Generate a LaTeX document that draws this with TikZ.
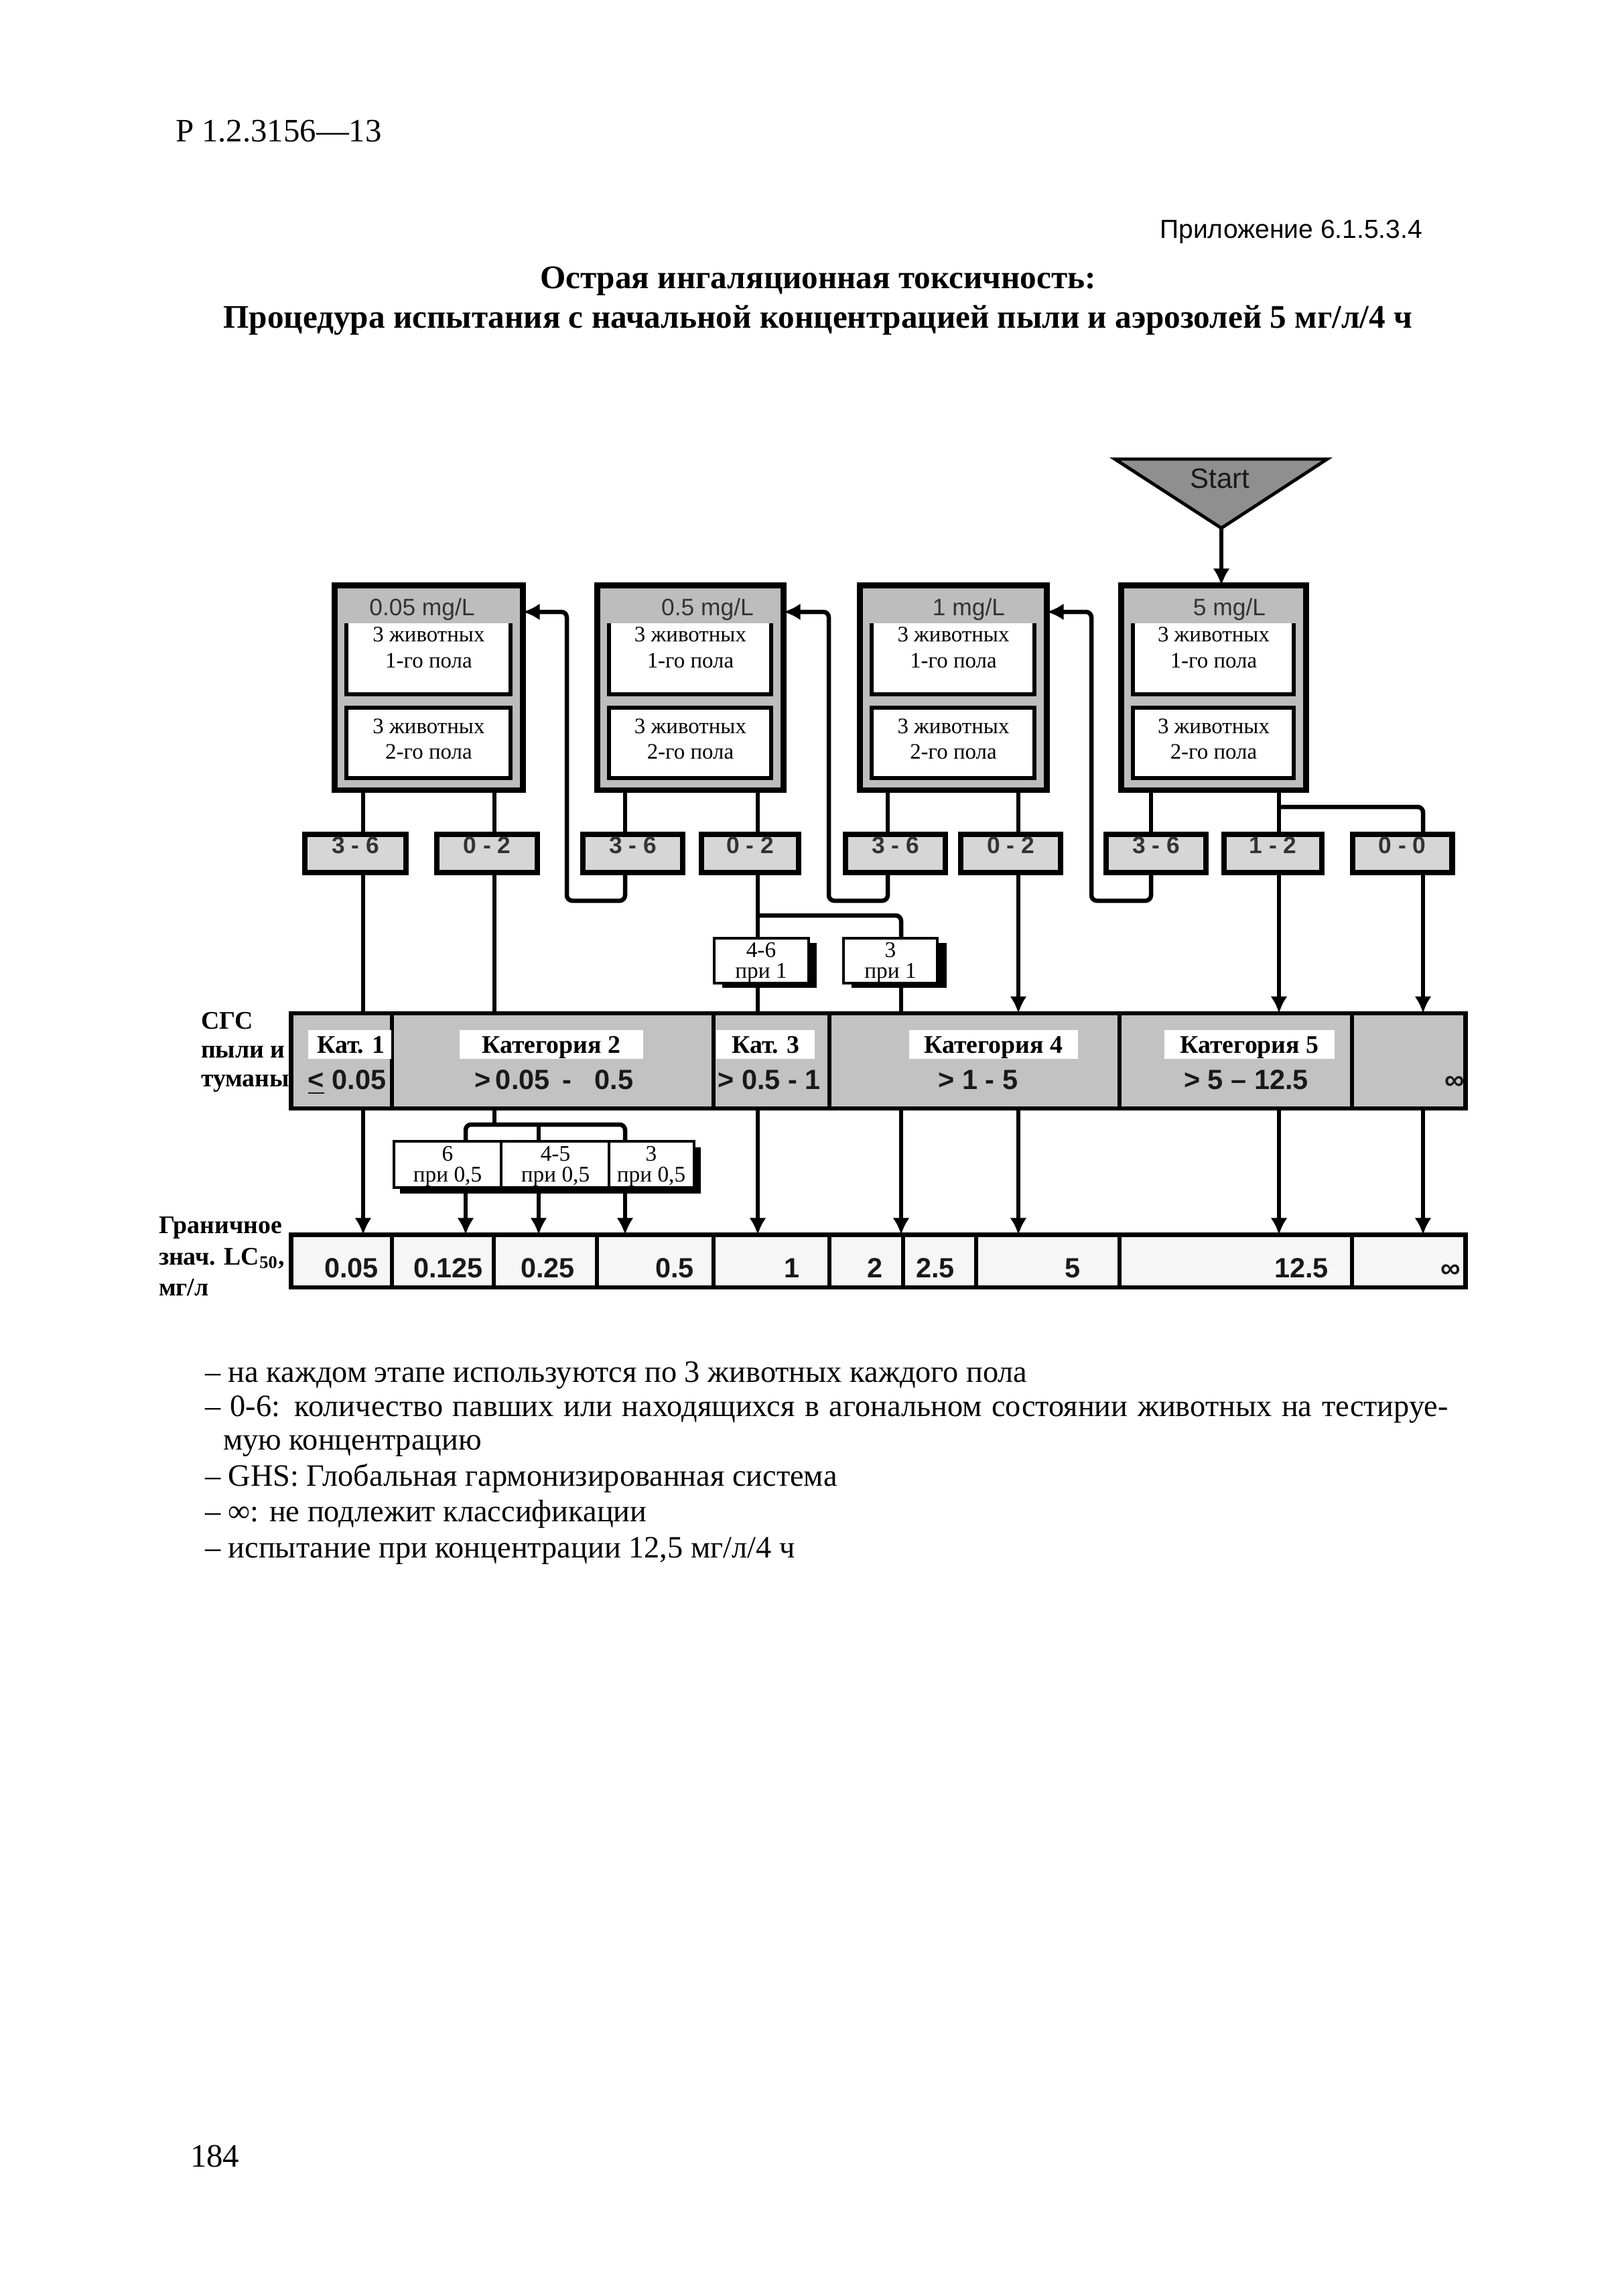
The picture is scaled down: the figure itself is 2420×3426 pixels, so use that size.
\documentclass[tikz,border=0pt]{standalone}
\usepackage{fontspec}
\setmainfont{Liberation Serif}
\newfontfamily\arialf{Liberation Sans}
\usetikzlibrary{fit,arrows.meta}
\definecolor{cgray}{gray}{0.74}
\definecolor{rgray}{gray}{0.84}
\definecolor{kgray}{gray}{0.76}
\definecolor{lgray}{gray}{0.965}
\definecolor{sgray}{gray}{0.56}
\definecolor{tgray}{gray}{0.2}
\definecolor{dgray}{gray}{0.1}
\newcommand\fsz[1]{\fontsize{#1pt}{#1pt}\selectfont}
\newcommand\concbox[5]{%
  \node[conc, fit={(#2+4.5,873.5) (#3-4.5,1179)}] (#1) {};
  \node[ctitle] (#1t) at (#4,918) {#5};
  \fill[white] (#2+22,930) rectangle (#3-23,1036);
  \draw[inb] (#2+22,930) -- (#2+22,1036) -- (#3-23,1036) -- (#3-23,930);
  \node[itext] (#1a) at ({(#2+#3)/2},957) {3 животных};
  \node[itext] (#1b) at ({(#2+#3)/2},996) {1-го пола};
  \node[draw, line width=1.4pt, fill=white, fit={(#2+22,1056) (#3-23,1161)}] (#1i) {};
  \node[itext] (#1c) at ({(#2+#3)/2},1094) {3 животных};
  \node[itext] (#1d) at ({(#2+#3)/2},1132) {2-го пола};
}
\begin{document}
\begin{tikzpicture}[x=0.24597pt, y=-0.24597pt,
  every node/.style={inner sep=0pt, outer sep=0pt},
  conn/.style={line width=1.6pt},
  arr/.style={line width=1.6pt, -{Latex[length=6.2pt,width=6.2pt]}},
  conc/.style={draw, line width=2.2pt, fill=cgray},
  ctitle/.style={anchor=base, font=\arialf\fsz{8.7}, text=tgray},
  inb/.style={line width=1.4pt},
  itext/.style={anchor=base, font=\fsz{8.1}},
  res/.style={draw, line width=2.2pt, fill=rgray, font=\arialf\bfseries\fsz{8.7}, text=tgray},
  kat/.style={draw, line width=1.7pt, fill=kgray},
  katlab/.style={anchor=base, font=\bfseries\fsz{9.3}},
  rng/.style={anchor=base, font=\arialf\bfseries\fsz{10.2}, text=dgray},
  lcc/.style={draw, line width=1.7pt, fill=lgray},
  lcv/.style={anchor=base east, font=\arialf\bfseries\fsz{10.2}, text=dgray},
  pbox/.style={draw, line width=0.9pt, fill=white},
  ptext/.style={anchor=base, font=\fsz{8.2}},
  side/.style={anchor=base west, font=\bfseries\fsz{9.3}},
  foot/.style={anchor=base west, font=\fsz{11.4}},
  rc/.style={rounded corners=2pt}
]
\fill[white] (0,0) rectangle (2420,3426);
\useasboundingbox (0,0) rectangle (2420,3426);

% header
\node[anchor=base west, font=\fsz{12}] (hdr) at (262,212) {Р 1.2.3156—13};
\node[anchor=base east, font=\arialf\fsz{9.6}] (app) at (2123,355) {Приложение 6.1.5.3.4};
\node[anchor=base, font=\bfseries\fsz{12.1}] (t1) at (1221,430) {Острая ингаляционная токсичность:};
\node[anchor=base, font=\bfseries\fsz{12.1}] (t2) at (1221,489) {Процедура испытания с начальной концентрацией пыли и аэрозолей 5 мг/л/4 ч};

% x positions
\coordinate (xA1) at (542,0);
\coordinate (xA2) at (738,0);
\coordinate (xB1) at (933,0);
\coordinate (xB2) at (1131,0);
\coordinate (xC1) at (1325,0);
\coordinate (xC2) at (1520,0);
\coordinate (xD1) at (1718,0);
\coordinate (xD2) at (1909,0);
\coordinate (xD3) at (2124,0);
\coordinate (xS) at (1823,0);
\coordinate (xfA) at (846,0);
\coordinate (xfB) at (1237,0);
\coordinate (xfC) at (1629,0);
\coordinate (xP) at (1345,0);
\coordinate (xk2a) at (695,0);
\coordinate (xk2b) at (804,0);
\coordinate (xk2c) at (933,0);
\coordinate (yfb) at (0,1344);
\coordinate (yarr) at (0,913);
\coordinate (ybr1) at (0,1366);
\coordinate (ybrD) at (0,1204);
\coordinate (ybrK) at (0,1678);

% start
\draw[fill=sgray, line width=1.2pt, line join=miter] (1664,685) -- (1981,685) -- (1823,788) -- cycle;
\coordinate (startapex) at (1823,788);
\node[anchor=base, font=\arialf\fsz{10.3}, text=dgray] (start) at (1821,728) {Start};

% concentration boxes
\concbox{A}{495}{785}{630}{0.05 mg/L}
\concbox{B}{887}{1174}{1056}{0.5 mg/L}
\concbox{C}{1279}{1567}{1446}{1 mg/L}
\concbox{D}{1669}{1954}{1835}{5 mg/L}

% result boxes
\node[res, fit={(455,1245) (606,1302)}] (r1) {3 - 6};
\node[res, fit={(652,1245) (802,1302)}] (r2) {0 - 2};
\node[res, fit={(870,1245) (1019,1302)}] (r3) {3 - 6};
\node[res, fit={(1047,1245) (1192,1302)}] (r4) {0 - 2};
\node[res, fit={(1262,1245) (1411,1302)}] (r5) {3 - 6};
\node[res, fit={(1434,1245) (1583,1302)}] (r6) {0 - 2};
\node[res, fit={(1651,1245) (1800,1302)}] (r7) {3 - 6};
\node[res, fit={(1827,1245) (1973,1302)}] (r8) {1 - 2};
\node[res, fit={(2019,1245) (2167,1302)}] (r9) {0 - 0};

% при 1 boxes
\fill[black] (1078,1407) rectangle (1219,1474);
\node[pbox, fit={(1066,1400) (1207,1467)}] (p46) {};
\node[ptext] (p46a) at (1136,1428) {4-6};
\node[ptext] (p46b) at (1136,1459) {при 1};
\fill[black] (1271,1407) rectangle (1413,1474);
\node[pbox, fit={(1259,1400) (1399,1467)}] (p31) {};
\node[ptext] (p31a) at (1329,1428) {3};
\node[ptext] (p31b) at (1329,1459) {при 1};

% category row
\node[kat, fit={(434.5,1512) (585,1654)}] (k1) {};
\node[kat, fit={(585,1512) (1065,1654)}] (k2) {};
\node[kat, fit={(1065,1512) (1238,1654)}] (k3) {};
\node[kat, fit={(1238,1512) (1671,1654)}] (k4) {};
\node[kat, fit={(1671,1512) (2018,1654)}] (k5) {};
\node[kat, fit={(2018,1512) (2187.5,1654)}] (k6) {};
\fill[white] (460,1537) rectangle (584,1580);
\fill[white] (686,1537) rectangle (960,1580);
\fill[white] (1069,1537) rectangle (1216,1580);
\fill[white] (1357,1537) rectangle (1609,1580);
\fill[white] (1738,1537) rectangle (1992,1580);
\node[katlab] (k1a) at (524,1571) {Кат. 1};
\node[katlab] (k2a) at (823,1571) {Категория 2};
\node[katlab] (k3a) at (1143,1571) {Кат. 3};
\node[katlab] (k4a) at (1483,1571) {Категория 4};
\node[katlab] (k5a) at (1865,1571) {Категория 5};
\node[rng] (k1b) at (518,1625) {\underline{<} 0.05};
\node[rng] (k2b) at (827,1625) {>\,0.05\ \,-\ \ \ 0.5};
\node[rng] (k3b) at (1148,1625) {> 0.5 - 1};
\node[rng] (k4b) at (1460,1625) {> 1 - 5};
\node[rng] (k5b) at (1860,1625) {> 5 – 12.5};
\node[rng, anchor=base east] (k6b) at (2186,1625) {∞};

% при 0,5 boxes
\fill[black] (597,1712) rectangle (1046,1781);
\node[pbox, fit={(588,1703) (748,1772)}] (p6) {};
\node[pbox, fit={(748,1703) (909,1772)}] (p45) {};
\node[pbox, fit={(909,1703) (1036,1772)}] (p3) {};
\node[ptext] (p6a) at (668,1732) {6};
\node[ptext] (p6b) at (668,1763) {при 0,5};
\node[ptext] (p45a) at (829,1732) {4-5};
\node[ptext] (p45b) at (829,1763) {при 0,5};
\node[ptext] (p3a) at (972,1732) {3};
\node[ptext] (p3b) at (972,1763) {при 0,5};

% LC row
\node[lcc, fit={(434.5,1842.5) (585,1921)}] (l1) {};
\node[lcc, fit={(585,1842.5) (737,1921)}] (l2) {};
\node[lcc, fit={(737,1842.5) (891,1921)}] (l3) {};
\node[lcc, fit={(891,1842.5) (1065,1921)}] (l4) {};
\node[lcc, fit={(1065,1842.5) (1238,1921)}] (l5) {};
\node[lcc, fit={(1238,1842.5) (1348,1921)}] (l6) {};
\node[lcc, fit={(1348,1842.5) (1457,1921)}] (l7) {};
\node[lcc, fit={(1457,1842.5) (1671,1921)}] (l8) {};
\node[lcc, fit={(1671,1842.5) (2018,1921)}] (l9) {};
\node[lcc, fit={(2018,1842.5) (2187.5,1921)}] (l10) {};
\node[lcv] (v1) at (565,1906) {0.05};
\node[lcv] (v2) at (721,1906) {0.125};
\node[lcv] (v3) at (858,1906) {0.25};
\node[lcv] (v4) at (1036,1906) {0.5};
\node[lcv] (v5) at (1194,1906) {1};
\node[lcv] (v6) at (1318,1906) {2};
\node[lcv] (v7) at (1425,1906) {2.5};
\node[lcv] (v8) at (1613,1906) {5};
\node[lcv] (v9) at (1983,1906) {12.5};
\node[lcv] (v10) at (2180,1906) {∞};

% side labels
\node[side] (s1) at (300,1535) {СГС};
\node[side] (s2) at (300,1578) {пыли и};
\node[side] (s3) at (300,1621) {туманы};
\node[side] (g1) at (237,1840) {Граничное};
\node[side] (g2) at (237,1887) {знач. LC\textsubscript{50},};
\node[side] (g3) at (237,1933) {мг/л};

% connectors: start
\draw[arr] (startapex) -- (D.north -| xS);
% boxes to results
\draw[conn] (A.south -| xA1) -- (r1.north -| xA1);
\draw[conn] (A.south -| xA2) -- (r2.north -| xA2);
\draw[conn] (B.south -| xB1) -- (r3.north -| xB1);
\draw[conn] (B.south -| xB2) -- (r4.north -| xB2);
\draw[conn] (C.south -| xC1) -- (r5.north -| xC1);
\draw[conn] (C.south -| xC2) -- (r6.north -| xC2);
\draw[conn] (D.south -| xD1) -- (r7.north -| xD1);
\draw[conn] (D.south -| xD2) -- (r8.north -| xD2);
\draw[conn, rc] (xD2 |- ybrD) -- (xD3 |- ybrD) -- (r9.north -| xD3);
% feedback loops
\draw[arr, rc] (r3.south -| xB1) -- (xB1 |- yfb) -- (xfA |- yfb) -- (xfA |- yarr) -- (A.east |- yarr);
\draw[arr, rc] (r5.south -| xC1) -- (xC1 |- yfb) -- (xfB |- yfb) -- (xfB |- yarr) -- (B.east |- yarr);
\draw[arr, rc] (r7.south -| xD1) -- (xD1 |- yfb) -- (xfC |- yfb) -- (xfC |- yarr) -- (C.east |- yarr);
% results to categories
\draw[conn] (r1.south -| xA1) -- (k1.north -| xA1);
\draw[conn] (r2.south -| xA2) -- (k2.north -| xA2);
\draw[conn] (r4.south -| xB2) -- (p46.north -| xB2);
\draw[conn, rc] (xB2 |- ybr1) -- (xP |- ybr1) -- (p31.north -| xP);
\draw[conn] (p46.south -| xB2) -- (k3.north -| xB2);
\draw[conn] (p31.south -| xP) -- (k4.north -| xP);
\draw[arr] (r6.south -| xC2) -- (k4.north -| xC2);
\draw[arr] (r8.south -| xD2) -- (k5.north -| xD2);
\draw[arr] (r9.south -| xD3) -- (k6.north -| xD3);
% categories to LC
\draw[arr] (k1.south -| xA1) -- (l1.north -| xA1);
\draw[conn] (k2.south -| xA2) -- (xA2 |- ybrK);
\draw[conn, rc] (p6.north -| xk2a) -- (xk2a |- ybrK) -- (xk2c |- ybrK) -- (p3.north -| xk2c);
\draw[conn] (xk2b |- ybrK) -- (p45.north -| xk2b);
\draw[arr] (p6.south -| xk2a) -- (l2.north -| xk2a);
\draw[arr] (p45.south -| xk2b) -- (l3.north -| xk2b);
\draw[arr] (p3.south -| xk2c) -- (l4.north -| xk2c);
\draw[arr] (k3.south -| xB2) -- (l5.north -| xB2);
\draw[arr] (k4.south -| xP) -- (l6.north -| xP);
\draw[arr] (k4.south -| xC2) -- (l8.north -| xC2);
\draw[arr] (k5.south -| xD2) -- (l9.north -| xD2);
\draw[arr] (k6.south -| xD3) -- (l10.north -| xD3);

% footnotes
\node[foot] (f1) at (306,2062) {– на каждом этапе используются по 3 животных каждого пола};
\node[foot] (f2) at (306,2113) {\makebox[456.5pt][s]{– 0-6: количество павших или находящихся в агональном состоянии животных на тестируе-}};
\node[foot] (f3) at (333,2163) {мую концентрацию};
\node[foot] (f4) at (306,2217) {– GHS: Глобальная гармонизированная система};
\node[foot] (f5) at (306,2270) {– ∞: не подлежит классификации};
\node[foot] (f6) at (306,2324) {– испытание при концентрации 12,5 мг/л/4 ч};

\node[anchor=base west, font=\fsz{12}] (pg) at (284,3233) {184};
\end{tikzpicture}
\end{document}
